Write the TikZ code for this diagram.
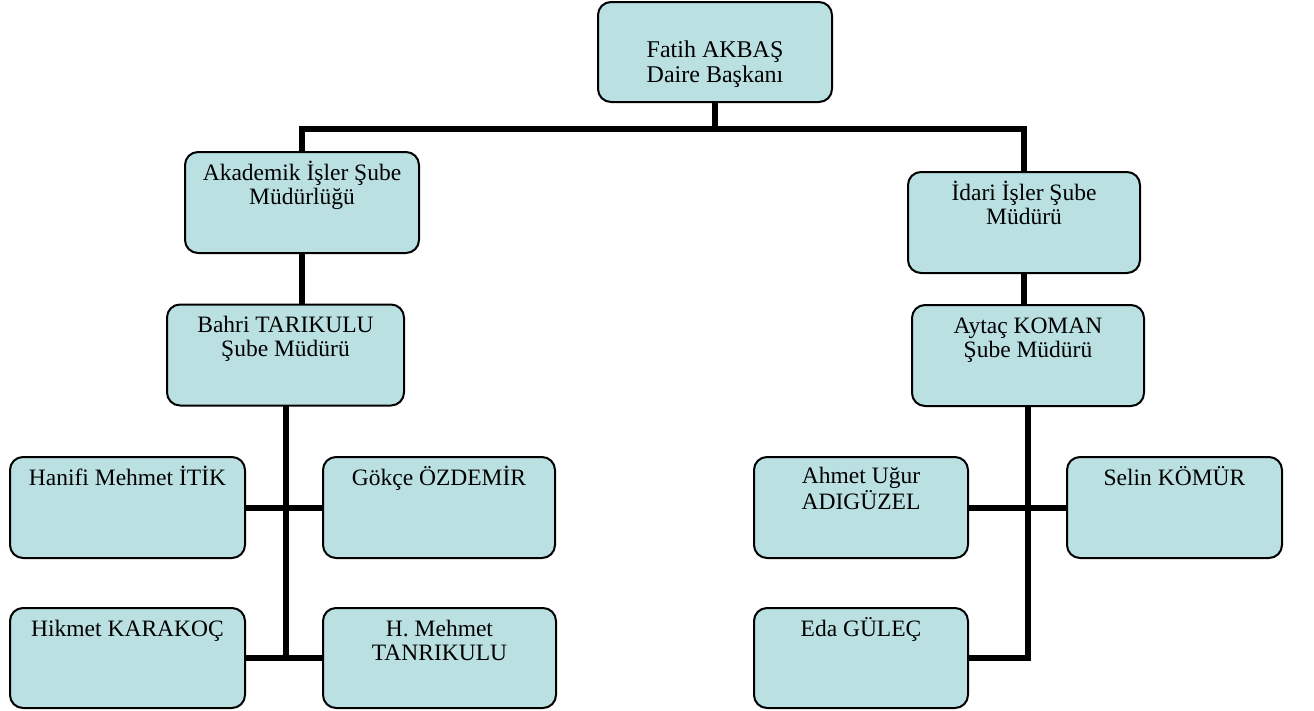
\documentclass[tikz,border=0pt]{standalone}
\usepackage{fontspec}
\setmainfont{Liberation Serif}
\definecolor{boxfill}{RGB}{186,224,226}

\begin{document}
\begin{tikzpicture}[x=1pt,y=-1pt,
    unit/.style={draw, line width=2pt, rounded corners=13pt, fill=boxfill,
        inner sep=0pt, outer sep=0pt, minimum width=#1, minimum height=101pt},
    unit/.default=234pt,
    lbl/.style={anchor=base, yshift=-28pt, align=center, inner sep=0pt,
        font=\fontsize{23.5}{24}\selectfont},
    lbltwo/.style={lbl, yshift=-24pt},
    conn/.style={line width=6pt}]
    \useasboundingbox (0,0) rectangle (1314,710);
    % head
    \node[unit, minimum height=100pt, label={[lbl, yshift=-52pt, font=\fontsize{24}{25}\selectfont]north:Fatih AKBAŞ\\Daire Başkanı}] (top) at (715,52) {};
    % branches
    \node[unit, label={[lbltwo]north:Akademik İşler Şube\\Müdürlüğü}] (akd) at (302,202.5) {};
    \node[unit=232pt, label={[lbltwo]north:İdari İşler Şube\\Müdürü}] (idari) at (1024,222.5) {};
    \node[unit=237pt, label={[lbltwo]north:Bahri TARIKULU\\Şube Müdürü}] (bahri) at (285.5,355) {};
    \node[unit=232pt, label={[lbltwo]north:Aytaç KOMAN\\Şube Müdürü}] (aytac) at (1028,355.5) {};
    % staff, left
    \node[unit=235pt, label={[lbl]north:Hanifi Mehmet İTİK}] (hanifi) at (127.5,507.5) {};
    \node[unit=232pt, label={[lbl]north:Gökçe ÖZDEMİR}] (gokce) at (439,507.5) {};
    \node[unit=235pt, minimum height=100pt, label={[lbl]north:Hikmet KARAKOÇ}] (hikmet) at (127.5,658) {};
    \node[unit=233pt, minimum height=100pt, label={[lbltwo]north:H. Mehmet\\TANRIKULU}] (hmehmet) at (439.5,658) {};
    % staff, right
    \node[unit=214pt, label={[lbltwo]north:Ahmet Uğur\\ADIGÜZEL}] (ahmet) at (861,507.5) {};
    \node[unit=215pt, label={[lbl]north:Selin KÖMÜR}] (selin) at (1174.5,507.5) {};
    \node[unit=214pt, minimum height=100pt, label={[lbl]north:Eda GÜLEÇ}] (eda) at (861,658) {};
    % lines
    \coordinate (split) at (715,129);
    \draw[conn] (top.south) -- (split);
    \draw[conn] (akd.north) |- (split) -| (idari.north);
    \draw[conn] (akd.south) -- (akd.south |- bahri.north);
    \draw[conn] (idari.south) -- (idari.south |- aytac.north);
    \draw[conn] (bahri.south) |- (hikmet.east);
    \draw[conn] (hanifi.east) -- (gokce.west);
    \draw[conn] (hikmet.east) -- (hmehmet.west);
    \draw[conn] (aytac.south) |- (eda.east);
    \draw[conn] (ahmet.east) -- (selin.west);
\end{tikzpicture}
\end{document}
